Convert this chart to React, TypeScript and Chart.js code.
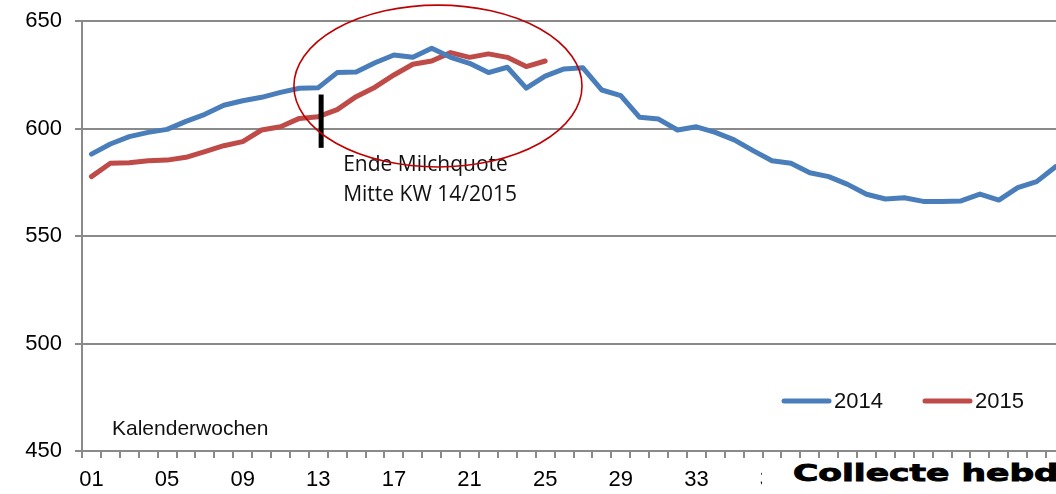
import React, { useEffect, useRef } from 'react';
import { Chart, registerables } from 'chart.js';

Chart.register(...registerables);

const weeks = [
  '01', '02', '03', '04', '05', '06', '07', '08', '09', '10', '11', '12', '13',
  '14', '15', '16', '17', '18', '19', '20', '21', '22', '23', '24', '25', '26',
  '27', '28', '29', '30', '31', '32', '33', '34', '35', '36', '37', '38', '39',
  '40', '41', '42', '43', '44', '45', '46', '47', '48', '49', '50', '51', '52',
];

const series2014 = [
  588.1, 592.8, 596.2, 598.2, 599.6, 603.3, 606.6, 610.8, 612.9, 614.5,
  616.8, 618.7, 619.0, 626.0, 626.3, 630.6, 634.2, 633.1, 637.3, 633.1,
  630.3, 626.0, 628.5, 618.8, 624.4, 627.7, 628.2, 617.9, 615.3, 605.2,
  604.4, 599.3, 600.8, 598.2, 594.7, 589.7, 585.0, 583.8, 579.4, 577.6,
  574.0, 569.4, 567.2, 567.8, 566.1, 566.1, 566.3, 569.5, 566.7, 572.5,
  575.3, 582.2,
];

const series2015 = [
  577.6, 583.8, 584.1, 585.0, 585.3, 586.6, 589.2, 592.0, 593.9, 599.3,
  600.8, 604.7, 605.5, 608.8, 614.8, 619.2, 624.9, 629.9, 631.4, 635.3,
  633.1, 634.7, 633.1, 628.8, 631.4,
];

const seriesNames = ['2014', '2015'];
const seriesColors = ['#4A7EBB', '#BE4B48'];

const yMin = 450;
const yMax = 650;
const yStep = 50;

const axisLabel = 'Kalenderwochen';
const noteLines = ['Ende Milchquote', 'Mitte KW 14/2015'];
// marker (week index, value range) and ellipse (week index range, value range)
const markerIndex = 12.15;
const markerRange = [591, 615.8];
const ellipseX = [10.71, 25.95];
const ellipseY = [582.1, 657.4];

const overlayPlugin = {
  id: 'overlay',
  afterDatasetsDraw(chart: any) {
    const { ctx, scales } = chart;
    const x = scales.x;
    const y = scales.y;
    ctx.save();

    // marker line
    const mx = x.getPixelForValue(markerIndex);
    ctx.strokeStyle = '#000';
    ctx.lineWidth = 5;
    ctx.lineCap = 'butt';
    ctx.beginPath();
    ctx.moveTo(mx, y.getPixelForValue(markerRange[1]));
    ctx.lineTo(mx, y.getPixelForValue(markerRange[0]));
    ctx.stroke();

    // note text
    ctx.fillStyle = '#111';
    ctx.font = '21px "Open Sans", sans-serif';
    ctx.textBaseline = 'alphabetic';
    ctx.textAlign = 'left';
    ctx.fillText(noteLines[0], mx + 22, 171);
    ctx.fillText(noteLines[1], mx + 22, 201);

    // ellipse
    const ex0 = x.getPixelForValue(ellipseX[0]);
    const ex1 = x.getPixelForValue(ellipseX[1]);
    const ey0 = y.getPixelForValue(ellipseY[1]);
    const ey1 = y.getPixelForValue(ellipseY[0]);
    ctx.strokeStyle = '#C00000';
    ctx.lineWidth = 1.6;
    ctx.beginPath();
    ctx.ellipse((ex0 + ex1) / 2, (ey0 + ey1) / 2, (ex1 - ex0) / 2, (ey1 - ey0) / 2, 0, 0, Math.PI * 2);
    ctx.stroke();

    // axis caption inside plot
    ctx.fillStyle = '#111';
    ctx.font = '21px "Liberation Sans", Arial, sans-serif';
    ctx.fillText(axisLabel, 112, 435);

    // legend
    const legendX = [782, 923];
    chart.data.datasets.forEach((ds: any, i: number) => {
      const lx = legendX[i];
      ctx.strokeStyle = ds.borderColor;
      ctx.lineWidth = 5;
      ctx.lineCap = 'round';
      ctx.beginPath();
      ctx.moveTo(lx + 2, 401);
      ctx.lineTo(lx + 47, 401);
      ctx.stroke();
      ctx.fillStyle = '#111';
      ctx.font = '22px "Liberation Sans", Arial, sans-serif';
      ctx.textBaseline = 'middle';
      ctx.fillText(ds.label, lx + 52, 402);
    });
    ctx.restore();
  },
};

export default function App() {
  const canvasRef = useRef<HTMLCanvasElement | null>(null);

  useEffect(() => {
    const canvas = canvasRef.current;
    if (!canvas) return;
    const gridColor = '#8a8a8a';
    const chart = new Chart(canvas, {
      type: 'line',
      data: {
        labels: weeks,
        datasets: [
          {
            label: seriesNames[0],
            data: series2014,
            borderColor: seriesColors[0],
            backgroundColor: seriesColors[0],
            borderWidth: 5,
            pointRadius: 0,
            tension: 0,
            borderJoinStyle: 'round',
            borderCapStyle: 'round',
          },
          {
            label: seriesNames[1],
            data: series2015,
            borderColor: seriesColors[1],
            backgroundColor: seriesColors[1],
            borderWidth: 5,
            pointRadius: 0,
            tension: 0,
            borderJoinStyle: 'round',
            borderCapStyle: 'round',
          },
        ],
      },
      options: {
        responsive: false,
        animation: false,
        devicePixelRatio: 1,
        layout: { padding: { left: 0, top: 21, right: 10, bottom: 0 } },
        plugins: {
          legend: { display: false },
          tooltip: { enabled: false },
          title: { display: false },
        },
        scales: {
          x: {
            type: 'category',
            offset: true,
            grid: {
              offset: true,
              drawOnChartArea: false,
              drawTicks: true,
              tickLength: 7,
              color: gridColor,
              lineWidth: 2,
            },
            border: { display: true, color: gridColor, width: 2 },
            ticks: {
              autoSkip: false,
              maxRotation: 0,
              minRotation: 0,
              padding: 9,
              color: '#000',
              font: { family: '"Liberation Sans", Arial, sans-serif', size: 22 },
              callback: (_v: any, i: number) => (i % 4 === 0 ? weeks[i] : ''),
            },
            afterFit: (scale: any) => {
              scale.height = 43;
              scale.paddingLeft = 0;
              scale.paddingRight = 0;
            },
          },
          y: {
            min: yMin,
            max: yMax,
            grid: {
              color: gridColor,
              lineWidth: 2,
              drawTicks: true,
              tickLength: 7,
            },
            border: { display: true, color: gridColor, width: 2 },
            ticks: {
              stepSize: yStep,
              padding: 13,
              color: '#000',
              font: { family: '"Liberation Sans", Arial, sans-serif', size: 22 },
            },
            afterFit: (scale: any) => {
              scale.width = 82;
              scale.paddingTop = 0;
              scale.paddingBottom = 0;
            },
          },
        },
      },
      plugins: [overlayPlugin],
    });
    return () => chart.destroy();
  }, []);

  return (
    <div
      style={{
        position: 'fixed',
        left: 0,
        top: 0,
        width: 1056,
        height: 494,
        overflow: 'hidden',
        background: '#fff',
      }}
    >
      <canvas ref={canvasRef} width={1075} height={494} style={{ display: 'block' }} />
      <div
        style={{
          position: 'absolute',
          left: 762,
          top: 459,
          width: 300,
          height: 40,
          background: '#fff',
          overflow: 'hidden',
        }}
      >
        <div
          style={{
            position: 'absolute',
            left: 31,
            top: 3,
            whiteSpace: 'nowrap',
            font: 'bold 23px "DejaVu Sans", sans-serif',
            lineHeight: '23px',
            color: '#000',
            WebkitTextStroke: '0.9px #000',
            transform: 'scaleX(1.5)',
            transformOrigin: 'left top',
          }}
        >
          Collecte hebdomadaire
        </div>
      </div>
    </div>
  );
}
